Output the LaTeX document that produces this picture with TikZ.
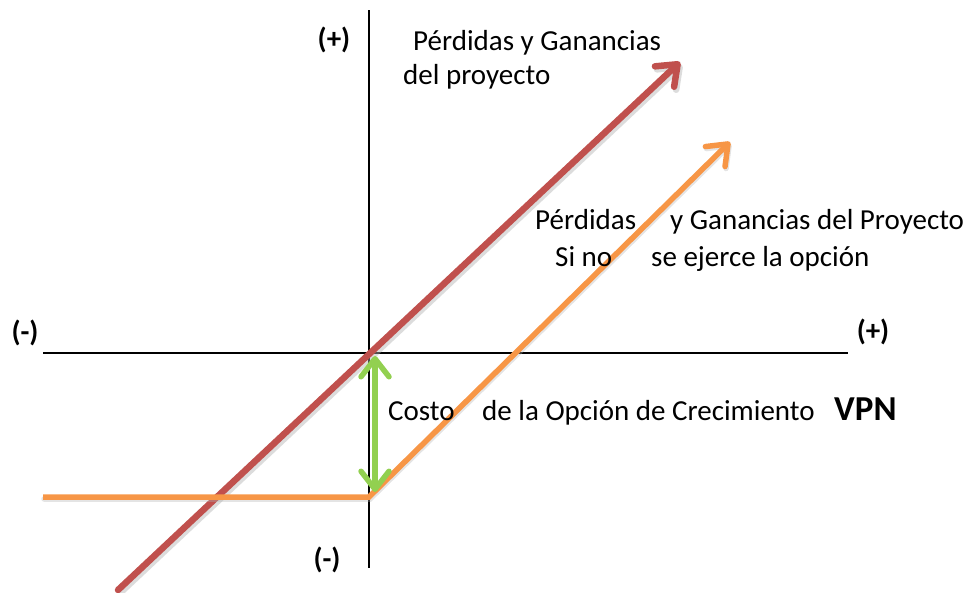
\documentclass[tikz,border=0pt]{standalone}
\usepackage{fontspec}
\setmainfont{Carlito}
\usetikzlibrary{arrows.meta,calc}
\definecolor{cred}{HTML}{C0504D}
\definecolor{corange}{HTML}{F79646}
\definecolor{cgreen}{HTML}{92D050}
\begin{document}
\begin{tikzpicture}[x=1pt,y=-1pt,
  txt/.style={font=\fontsize{29}{34}\selectfont, inner sep=0pt, anchor=base west},
  sgn/.style={font=\fontsize{29}{34}\selectfont\bfseries, inner sep=0pt},
  tipb/.tip={Straight Barb[length=18pt,width=28pt,line join=round,line cap=round]},
  barb/.style={-tipb, line cap=round}
]
\useasboundingbox (0,0) rectangle (973,592);
% axes
\coordinate (vt) at (369,10);
\coordinate (vb) at (369,568);
\coordinate (hl) at (43,353);
\coordinate (hr) at (848,353);
\draw[line width=1.6pt] (vt) -- (vb);
\draw[line width=1.6pt] (hl) -- (hr);
% red line
\coordinate (r0) at (118,590);
\coordinate (r1) at (680,62);
\draw[black!30, opacity=0.45, line width=6.5pt, barb] ($(r0)+(2,3)$) -- ($(r1)+(2,3)$);
\draw[cred, line width=6.5pt, barb] (r0) -- (r1);
% orange
\coordinate (o0) at (43,497);
\coordinate (o1) at (369,497);
\coordinate (o2) at (730,142);
\draw[black!30, opacity=0.35, line width=5.5pt, barb] ($(o0)+(1,2)$) -- ($(o1)+(1,2)$) -- ($(o2)+(1,2)$);
\draw[corange, line width=5.5pt, barb, line cap=butt] (o0) -- (o1) -- (o2);
% green double arrow
\coordinate (g0) at (375,356);
\coordinate (g1) at (375,492);
\draw[cgreen, line width=5.5pt, tipb-tipb] (g0) -- (g1);
% labels
\node[sgn] (pt) at (334,40) {(+)};
\node[sgn] (ml) at (25,333) {(-)};
\node[sgn] (pr) at (873,332) {(+)};
\node[sgn] (mb) at (327,560) {(-)};
\node[txt] (t1) at (413,50) {Pérdidas y Ganancias};
\node[txt] (t2) at (403,84) {del proyecto};
\node[txt] (m1) at (535,229) {Pérdidas};
\node[txt] (m2) at (670,229) {y Ganancias del Proyecto};
\node[txt] (m3) at (555,266) {Si no};
\node[txt] (m4) at (651,266) {se ejerce la opción};
\node[txt] (c1) at (388,420) {Costo};
\node[txt] (c2) at (482,420) {de la Opción de Crecimiento};
\node[txt, font=\fontsize{35}{40}\selectfont\bfseries] (vpn) at (834,420) {VPN};
\end{tikzpicture}
\end{document}
